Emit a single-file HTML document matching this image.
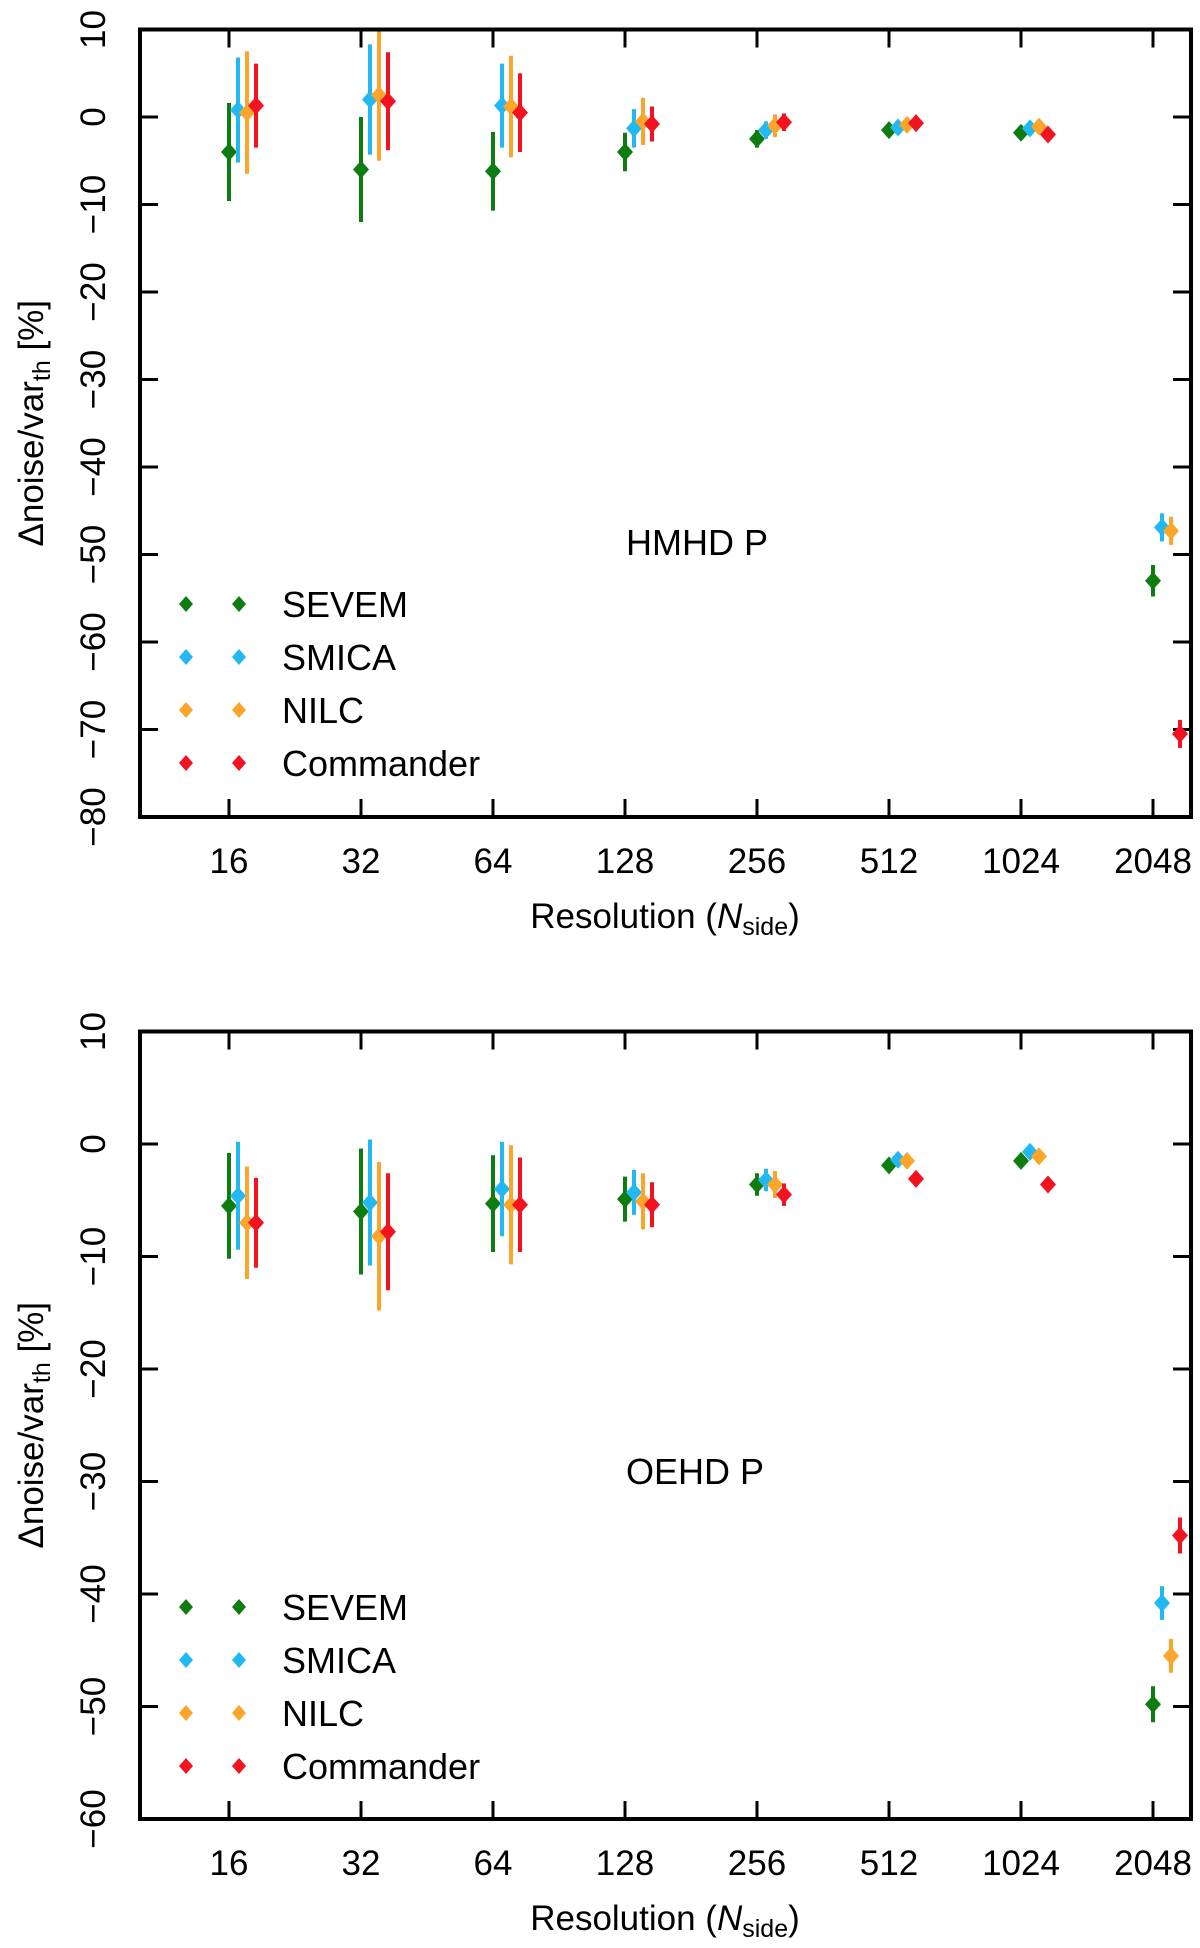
<!DOCTYPE html>
<html><head><meta charset="utf-8"><style>
html,body{margin:0;padding:0;background:#fff;}
svg{display:block;font-family:"Liberation Sans","DejaVu Sans",sans-serif;}
</style></head>
<body>
<svg id="fig" width="1200" height="1948" viewBox="0 0 1200 1948" xmlns="http://www.w3.org/2000/svg"></svg>
<script>
const categories = ["16","32","64","128","256","512","1024","2048"];
const seriesNames = ["SEVEM","SMICA","NILC","Commander"];
const seriesColors = ["#0f7c12","#22b8f2","#fba52a","#f3121f"];
// Top panel (HMHD P): values and errors per series
const hmhdSevem = [-4.0,-6.0,-6.2,-4.0,-2.5,-1.5,-1.8,-53.0];
const hmhdSevemErr = [5.6,6.0,4.5,2.2,1.0,0.3,0.3,1.8];
const hmhdSmica = [0.8,2.0,1.3,-1.3,-1.5,-1.2,-1.3,-46.9];
const hmhdSmicaErr = [6.0,6.3,4.8,2.2,1.0,0.3,0.3,1.6];
const hmhdNilc = [0.5,2.5,1.2,-0.5,-1.0,-0.9,-1.1,-47.3];
const hmhdNilcErr = [7.0,7.5,5.8,2.7,1.3,0.3,0.3,1.6];
const hmhdCommander = [1.3,1.8,0.5,-0.8,-0.6,-0.7,-2.0,-70.5];
const hmhdCommanderErr = [4.8,5.6,4.5,2.0,1.0,0.3,0.3,1.6];
// Bottom panel (OEHD P)
const oehdSevem = [-5.5,-6.0,-5.3,-4.9,-3.6,-1.9,-1.5,-49.8];
const oehdSevemErr = [4.7,5.6,4.3,2.0,1.0,0.3,0.3,1.6];
const oehdSmica = [-4.6,-5.2,-4.0,-4.3,-3.2,-1.4,-0.7,-40.8];
const oehdSmicaErr = [4.8,5.6,4.2,2.0,1.0,0.3,0.3,1.5];
const oehdNilc = [-7.0,-8.2,-5.4,-5.1,-3.6,-1.5,-1.1,-45.5];
const oehdNilcErr = [5.0,6.6,5.3,2.5,1.2,0.3,0.3,1.5];
const oehdCommander = [-7.0,-7.8,-5.4,-5.4,-4.5,-3.1,-3.6,-34.8];
const oehdCommanderErr = [4.0,5.2,4.2,2.0,1.0,0.3,0.3,1.6];
const topTicks = [10,0,-10,-20,-30,-40,-50,-60,-70,-80];
const bottomTicks = [10,0,-10,-20,-30,-40,-50,-60];

const NS = "http://www.w3.org/2000/svg";
const svg = document.getElementById("fig");
function mk(tag, attrs, parent){
  const e = document.createElementNS(NS, tag);
  for (const k in attrs) e.setAttribute(k, attrs[k]);
  (parent||svg).appendChild(e);
  return e;
}
function fmt(v){ return v < 0 ? "\u2212" + Math.abs(v) : String(v); }

function panel(opt){
  const L=140, R=1191, T=opt.top, B=opt.bottom;
  const g = mk("g",{});
  
  
  const y = v => T + (opt.ymax - v) / (opt.ymax - opt.ymin) * (B - T);
  const x = (i, s) => 229 + i * 132 + s * 9;
  // ticks
  opt.ticks.forEach(t => {
    const yy = y(t);
    const tk = mk("path",{d:`M${L},${yy}H${L+18}M${R},${yy}H${R-18}`,stroke:"#000","stroke-width":3},g);
    
    
    const lb = mk("text",{x:0,y:0,"font-size":35,"text-anchor":"middle",transform:`translate(105,${yy}) rotate(-90)`},g);
    
    
    lb.textContent = fmt(t);
  });
  categories.forEach((c,i) => {
    const xx = x(i,0);
    const tk = mk("path",{d:`M${xx},${T}V${T+18}M${xx},${B}V${B-18}`,stroke:"#000","stroke-width":3},g);
    
    
    const lb = mk("text",{x:xx,y:B+56,"font-size":35,"text-anchor":"middle"},g);
    
    
    lb.textContent = c;
  });
  // data
  opt.series.forEach((s,si) => {
    const sg = mk("g",{},g);
    
    
    s.vals.forEach((v,i) => {
      const xx = x(i,si), yy = y(v), e = s.err[i];
      const eb = mk("line",{x1:xx,x2:xx,y1:y(v+e),y2:y(v-e),stroke:seriesColors[si],"stroke-width":4},sg);
      
      
      const pt = mk("path",{d:`M${xx},${yy-9}L${xx+8},${yy}L${xx},${yy+9}L${xx-8},${yy}Z`,fill:seriesColors[si]},sg);
      
      
    });
  });
  // frame
  const fr = mk("rect",{x:L,y:T,width:R-L,height:B-T,fill:"none",stroke:"#000","stroke-width":4},g);
  
  
  // legend
  const lg = mk("g",{},g);
  
  
  seriesNames.forEach((n,si) => {
    const yy = opt.legendY + si * 53;
    [186,239].forEach(xx => {
      const m = mk("path",{d:`M${xx},${yy-8}L${xx+7},${yy}L${xx},${yy+8}L${xx-7},${yy}Z`,fill:seriesColors[si]},lg);
      
      
    });
    const t = mk("text",{x:282,y:yy+13,"font-size":36},lg);
    
    
    t.textContent = n;
  });
  const ann = mk("text",{x:626,y:opt.annY,"font-size":36},g);
  
  
  ann.textContent = opt.title;
  // axis labels
  const xl = mk("text",{x:665,y:B+111,"font-size":35,"text-anchor":"middle"},g);
  
  
  xl.innerHTML = 'Resolution (<tspan font-style="italic">N</tspan><tspan font-size="25" dy="7">side</tspan><tspan dy="-7">)</tspan>';
  const yl = mk("text",{x:0,y:0,"font-size":35,"text-anchor":"middle",transform:`translate(43,${(T+B)/2}) rotate(-90)`},g);
  
  
  yl.innerHTML = '\u0394noise/var<tspan font-size="25" dy="7">th</tspan><tspan dy="-7"> [%]</tspan>';
}

panel({name:"hmhd-panel",top:29.5,bottom:817,ymax:10,ymin:-80,ticks:topTicks,legendY:604,annY:555,title:"HMHD P",
  series:[{vals:hmhdSevem,err:hmhdSevemErr},{vals:hmhdSmica,err:hmhdSmicaErr},{vals:hmhdNilc,err:hmhdNilcErr},{vals:hmhdCommander,err:hmhdCommanderErr}]});
panel({name:"oehd-panel",top:1031.5,bottom:1819,ymax:10,ymin:-60,ticks:bottomTicks,legendY:1607,annY:1484,title:"OEHD P",
  series:[{vals:oehdSevem,err:oehdSevemErr},{vals:oehdSmica,err:oehdSmicaErr},{vals:oehdNilc,err:oehdNilcErr},{vals:oehdCommander,err:oehdCommanderErr}]});
</script>
</body></html>
